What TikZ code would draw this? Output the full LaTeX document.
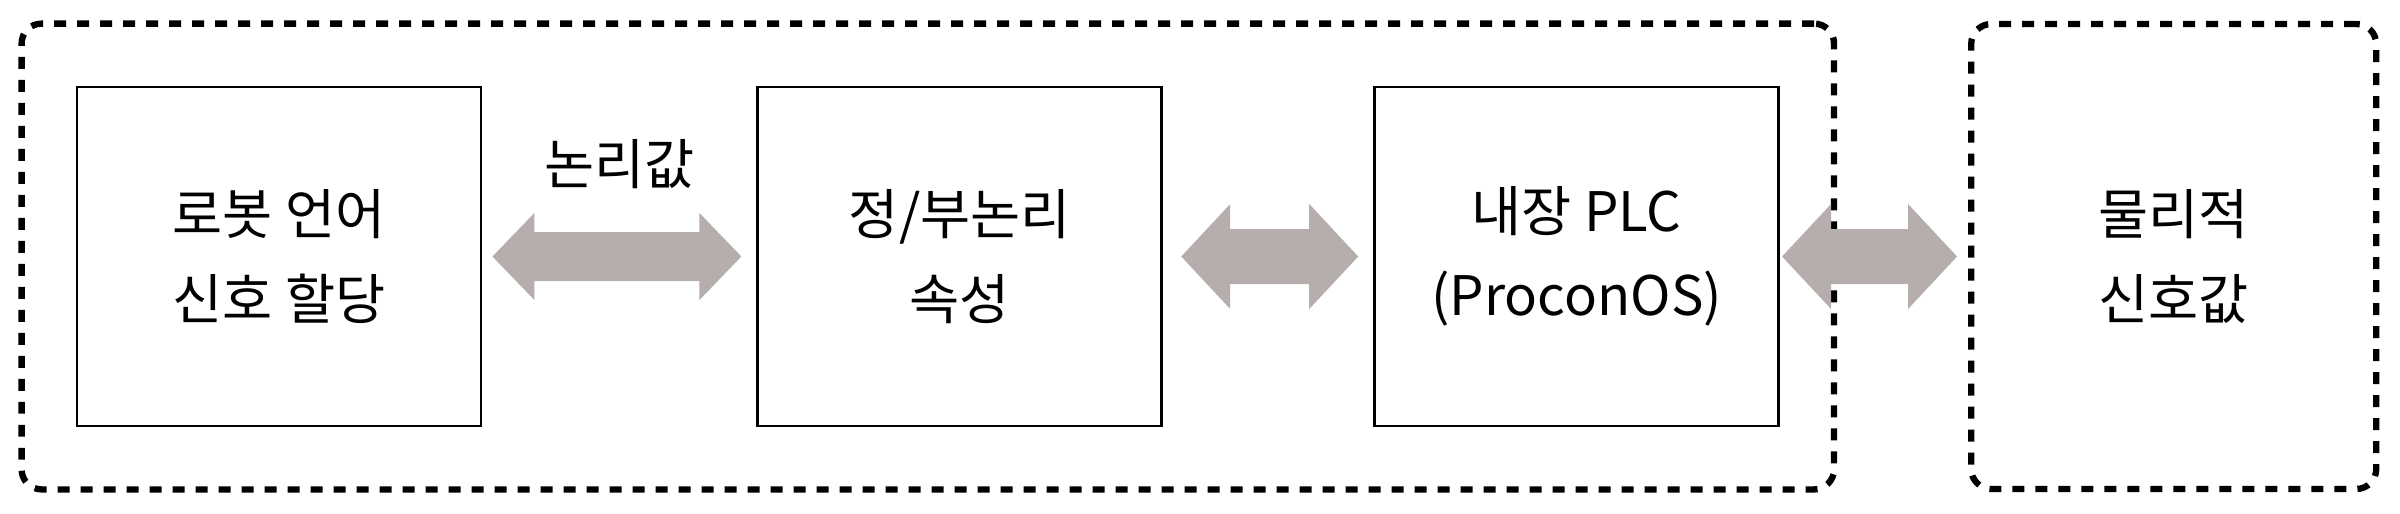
\documentclass[tikz,border=0pt]{standalone}
\usepackage{fontspec}
\setmainfont{Noto Sans CJK KR}
\usetikzlibrary{positioning, fit, calc, backgrounds}
\definecolor{arrowgray}{RGB}{181,174,172}

\begin{document}
\begin{tikzpicture}[
    block/.style={draw, line width=0.8pt, minimum width=4.04cm, minimum height=3.39cm,
        align=center, font=\fontsize{15.5}{24}\selectfont},
    group/.style={draw, line width=1.8pt, dash pattern=on 0.12cm off 0.11cm,
        rounded corners=0.2cm},
    % fat double arrow: head length, head half width, shaft half width
    fat/.style n args={3}{fill=arrowgray, to path={
        let \p1=(\tikztostart), \p2=(\tikztotarget) in
        (\x1,\y1) -- ({\x1+#1},{\y1+#2}) -- ({\x1+#1},{\y1+#3}) -- ({\x2-#1},{\y1+#3})
        -- ({\x2-#1},{\y1+#2}) -- (\x2,\y1) -- ({\x2-#1},{\y1-#2}) -- ({\x2-#1},{\y1-#3})
        -- ({\x1+#1},{\y1-#3}) -- ({\x1+#1},{\y1-#2}) -- cycle}},
    link/.style={fat={0.49cm}{0.525cm}{0.275cm}},
    thinlink/.style={fat={0.42cm}{0.435cm}{0.245cm}},
    ]
\useasboundingbox (0,0) rectangle (24,5.13);

% blocks
\node[block] (robot) at (2.79,2.565) {로봇 언어\\신호 할당};
\node[block, right=2.74cm of robot] (logic) {정/부논리\\속성};
\node[block, right=2.10cm of logic] (plc) {내장 PLC\\(ProconOS)};
\node[group, minimum width=4.05cm, minimum height=4.65cm, align=center,
    font=\fontsize{15.5}{24}\selectfont, right=1.88cm of plc] (phys) {물리적\\신호값};

\begin{scope}[on background layer]
\node[group, inner xsep=0.54cm, inner ysep=0.62cm, fit=(robot) (plc)] (system) {};
\end{scope}

% links
\path[thinlink] ([xshift=0.10cm]robot.east) to ([xshift=-0.15cm]logic.west);
\path (robot.east) -- (logic.west)
    node[midway, above=0.55cm, font=\fontsize{15.5}{18}\selectfont] (value) {논리값};
\path[link] ([xshift=0.18cm]logic.east) to ([xshift=-0.15cm]plc.west);
\path[link] ([xshift=0.02cm]plc.east) to ([xshift=-0.11cm]phys.west);
\end{tikzpicture}
\end{document}
